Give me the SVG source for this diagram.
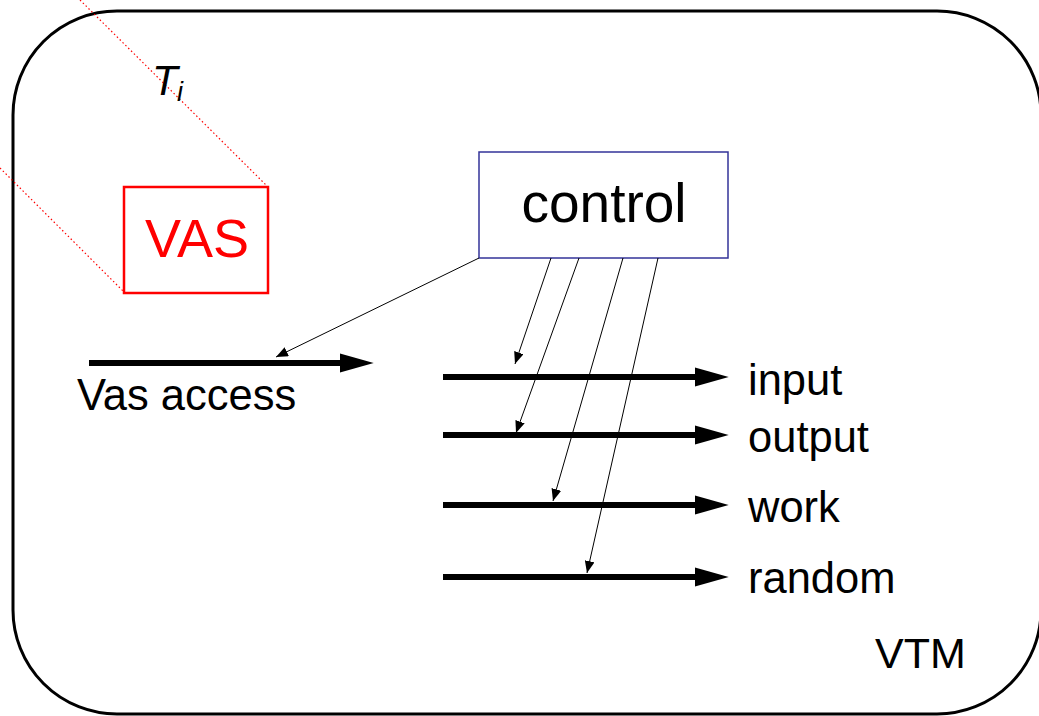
<svg xmlns="http://www.w3.org/2000/svg" width="1039" height="716" viewBox="0 0 1039 716">
<defs>
<style>
text{font-family:"Liberation Sans",Arial,sans-serif;fill:#000}
.lbl{font-size:43.5px}
.thick{stroke:#000;stroke-width:6;fill:none}
.thin{stroke:#000;stroke-width:1;fill:none}
.proj{stroke:#ff0000;stroke-width:1.2;stroke-dasharray:1.5 2.5;fill:none}
</style>
<marker id="big" markerUnits="userSpaceOnUse" markerWidth="34" markerHeight="20" viewBox="0 0 32 18" refX="5" refY="9" orient="auto"><path d="M0,0 L32,9 L0,18 z" fill="#000"/></marker>
<marker id="small" markerUnits="userSpaceOnUse" markerWidth="12" markerHeight="10" viewBox="0 0 11 9" refX="11" refY="4.5" orient="auto"><path d="M0,0 L11,4.5 L0,9 z" fill="#000"/></marker>
</defs>
<rect width="1039" height="716" fill="#fff"/>
<g id="vtm">
<rect x="13" y="11" width="1028" height="703" rx="104" ry="104" fill="none" stroke="#000" stroke-width="3"/>
<text x="875" y="668" font-size="43">VTM</text>
</g>
<g id="projection">
<line class="proj" x1="80" y1="0" x2="267" y2="186"/>
<line class="proj" x1="0" y1="168" x2="124" y2="292"/>
<text x="152" y="95" font-size="42" font-style="italic">T</text>
<text x="177" y="101" font-size="27" font-style="italic">i</text>
</g>
<g id="vas">
<rect x="124" y="187" width="144" height="106" fill="none" stroke="#ff0000" stroke-width="2.5"/>
<text x="197" y="257" font-size="54" text-anchor="middle" style="fill:#ff0000">VAS</text>
</g>
<g id="control">
<rect x="479" y="152" width="249" height="106" fill="#fff" stroke="#333399" stroke-width="1.5"/>
<text x="604" y="222" font-size="55" text-anchor="middle">control</text>
</g>
<g id="vas-access">
<line class="thick" x1="89" y1="363" x2="345" y2="363" marker-end="url(#big)"/>
<text class="lbl" x="77" y="410">Vas access</text>
</g>
<g id="input">
<line class="thick" x1="443" y1="377" x2="700" y2="377" marker-end="url(#big)"/>
<text class="lbl" x="748" y="395">input</text>
</g>
<g id="output">
<line class="thick" x1="443" y1="435" x2="700" y2="435" marker-end="url(#big)"/>
<text class="lbl" x="748" y="452">output</text>
</g>
<g id="work">
<line class="thick" x1="443" y1="505" x2="700" y2="505" marker-end="url(#big)"/>
<text class="lbl" x="748" y="522">work</text>
</g>
<g id="random">
<line class="thick" x1="443" y1="577" x2="700" y2="577" marker-end="url(#big)"/>
<text class="lbl" x="748" y="593">random</text>
</g>
<g id="connectors">
<line class="thin" x1="479" y1="258" x2="276" y2="357" marker-end="url(#small)"/>
<line class="thin" x1="551" y1="258" x2="515" y2="364" marker-end="url(#small)"/>
<line class="thin" x1="579" y1="258" x2="516" y2="433" marker-end="url(#small)"/>
<line class="thin" x1="623" y1="258" x2="553" y2="501" marker-end="url(#small)"/>
<line class="thin" x1="658" y1="258" x2="587" y2="573" marker-end="url(#small)"/>
</g>
</svg>
